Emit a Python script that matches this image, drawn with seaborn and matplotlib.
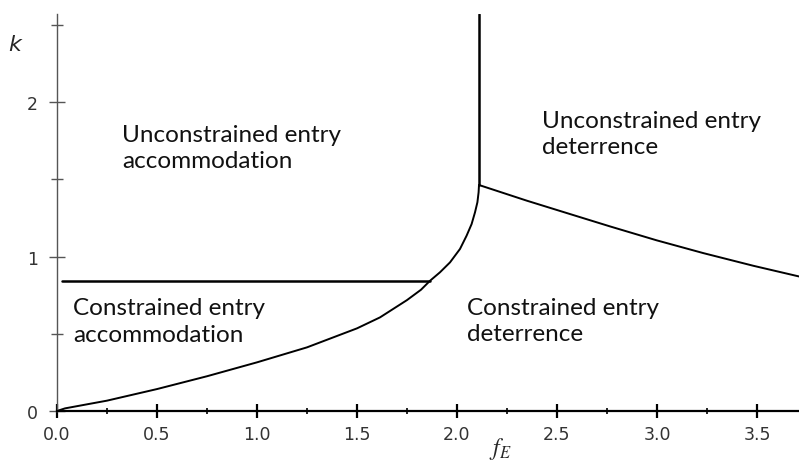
import seaborn as sns
import matplotlib.pyplot as plt
import pandas as pd
from matplotlib.ticker import MultipleLocator

# Boundary between constrained accommodation and deterrence
lower_f = [0.0, 0.04, 0.25, 0.5, 0.75, 1.0, 1.25, 1.5, 1.615, 1.75, 1.82, 1.865,
           1.915, 1.965, 2.015, 2.048, 2.073, 2.09, 2.102, 2.108, 2.11]
lower_k = [0.0, 0.017, 0.067, 0.142, 0.225, 0.315, 0.412, 0.535, 0.606, 0.718, 0.785, 0.843,
           0.898, 0.962, 1.049, 1.135, 1.21, 1.286, 1.351, 1.416, 1.463]

# Constraint threshold (horizontal)
flat_f = [0.025, 1.865]
flat_k = [0.843, 0.843]

# Vertical boundary
vert_f = [2.11, 2.11]
vert_k = [1.463, 2.57]

# Unconstrained deterrence boundary
desc_f = [2.11, 2.348, 2.565, 2.765, 2.998, 3.232, 3.482, 3.71]
desc_k = [1.463, 1.362, 1.275, 1.195, 1.105, 1.022, 0.94, 0.871]

region_labels = ["Unconstrained entry\naccommodation", "Unconstrained entry\ndeterrence",
                 "Constrained entry\naccommodation", "Constrained entry\ndeterrence"]
label_f = [0.325, 2.425, 0.08, 2.05]
label_k = [1.86, 1.95, 0.735, 0.74]

segments = []
for name, fs, ks in [("lower", lower_f, lower_k), ("flat", flat_f, flat_k),
                     ("vert", vert_f, vert_k), ("desc", desc_f, desc_k)]:
    for f, k in zip(fs, ks):
        segments.append({"segment": name, "f": f, "k": k})
df = pd.DataFrame(segments)

sns.set_style("white")
plt.rcParams["mathtext.fontset"] = "stix"

fig = plt.figure(figsize=(7.99, 4.64), dpi=100)
ax = fig.add_axes([57 / 799, 52 / 464, 742 / 799, 397 / 464])

for name, grp in df.groupby("segment", sort=False):
    lw = 1.4 if name in ("lower", "desc") else 1.8
    sns.lineplot(data=grp, x="f", y="k", sort=False, estimator=None, color="black",
                 linewidth=lw, ax=ax, legend=False)

ax.set_xlim(0, 3.71)
ax.set_ylim(0, 2.57)

for s in ["top", "right"]:
    ax.spines[s].set_visible(False)
ax.spines["bottom"].set_color("black")
ax.spines["bottom"].set_linewidth(1.6)
ax.spines["left"].set_color("#555555")
ax.spines["left"].set_linewidth(1.0)

ax.xaxis.set_minor_locator(MultipleLocator(0.25))
ax.yaxis.set_minor_locator(MultipleLocator(0.5))
ax.set_xticks([0, 0.5, 1, 1.5, 2, 2.5, 3, 3.5])
ax.set_xticklabels(["0.0", "0.5", "1.0", "1.5", "2.0", "2.5", "3.0", "3.5"])
ax.set_yticks([0, 1, 2])
ax.set_yticklabels(["0", "1", "2"])

ax.tick_params(axis="x", which="major", direction="inout", length=10, width=1.6,
               color="black", labelsize=12.5, pad=5, labelcolor="#333333")
ax.tick_params(axis="x", which="minor", direction="inout", length=5, width=1.2, color="black")
ax.tick_params(axis="y", which="major", direction="inout", length=11, width=1.0,
               color="#555555", labelsize=12.5, pad=8, labelcolor="#333333")
ax.tick_params(axis="y", which="minor", direction="inout", length=8, width=1.0, color="#555555")
ax.tick_params(bottom=True, left=True, which="both")

ax.set_xlabel(r"$f_E$", fontsize=17)
ax.xaxis.set_label_coords(0.597, -0.06)
ax.set_ylabel("k", fontsize=16, style="italic", rotation=0, family="DejaVu Sans")
ax.yaxis.set_label_coords(-0.057, 0.9)

for text, f, k in zip(region_labels, label_f, label_k):
    ax.text(f, k, text, fontsize=17.5, family="Lato", color="#111111",
            ha="left", va="top", linespacing=1.3)

fig.savefig("out.png", dpi=100)
